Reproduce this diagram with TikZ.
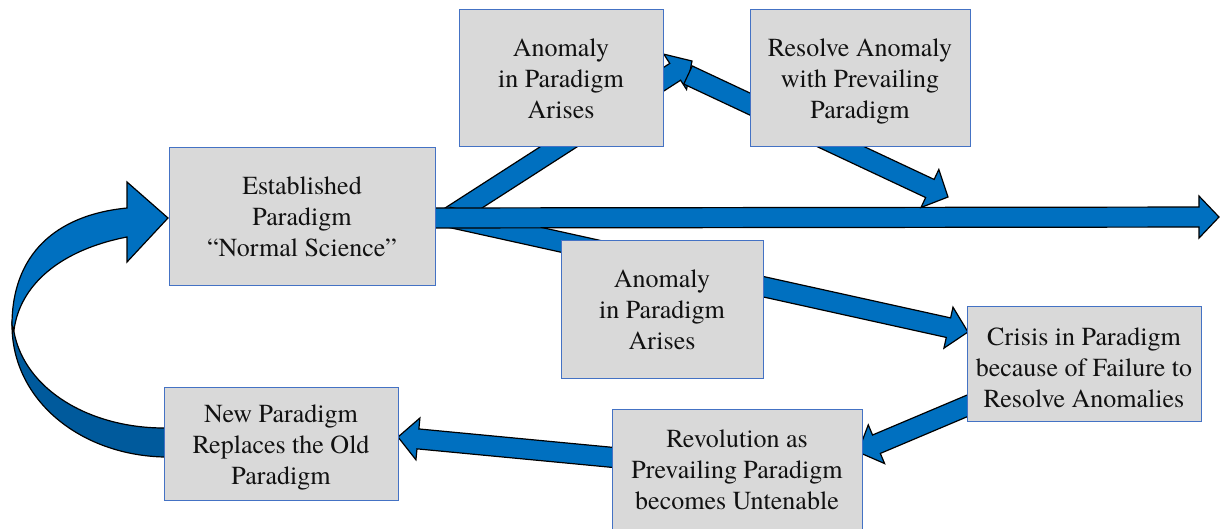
\documentclass[tikz,border=0pt]{standalone}
\usepackage{fontspec}
\setmainfont{TeX Gyre Termes}
\usetikzlibrary{calc}
\definecolor{arrblue}{HTML}{0070C0}
\definecolor{arrdark}{HTML}{005A9C}
\definecolor{boxfill}{HTML}{D9D9D9}
\definecolor{boxline}{HTML}{4472C4}
\definecolor{txt}{HTML}{111111}
\tikzset{
  box/.style={draw=boxline, line width=0.5pt, fill=boxfill, align=center, text=txt,
    font=\fontsize{13}{15.5}\selectfont, inner sep=0pt},
  blockarrow/.style={draw=black, line width=0.6pt, fill=arrblue},
  darkband/.style={draw=black, line width=0.6pt, fill=arrdark}
}
\newcommand\blockarr[2]{%
  \path let \p1=($(#2)-(#1)$) in \pgfextra{%
    \pgfmathsetmacro\baang{atan2(\y1,\x1)}%
    \pgfmathsetmacro\balen{veclen(\x1,\y1)}%
    \global\let\baang\baang \global\let\balen\balen};
  \draw[blockarrow, shift={(#1)}, rotate=\baang]
    (0pt,-5pt) -- ({\balen pt-10pt},-5pt) -- ({\balen pt-10pt},-10.5pt) -- ({\balen pt},0pt)
    -- ({\balen pt-10pt},10.5pt) -- ({\balen pt-10pt},5pt) -- (0pt,5pt) -- cycle;
}
\newcommand\lowerby[1]{\rule{0pt}{#1}}
\begin{document}
\begin{tikzpicture}[x=0.5pt, y=-0.5pt]
\path[use as bounding box] (0,0) rectangle (1220,529);
\clip (0,0) rectangle (1220,529);
% connector end points
\coordinate (a1s) at (448,218);
\coordinate (a1e) at (692,61);
\coordinate (a2s) at (448,217);
\coordinate (a2e) at (968,332);
\coordinate (ms) at (420,218);
\coordinate (me) at (1219,217);
\coordinate (a3s) at (688,75);
\coordinate (a3e) at (948,197);
\coordinate (a4s) at (1000,392);
\coordinate (a4e) at (858,452);
\coordinate (a5s) at (640,460);
\coordinate (a5e) at (398,437);
% block arrows
\blockarr{a1s}{a1e}
\blockarr{a2s}{a2e}
\blockarr{ms}{me}
\blockarr{a3s}{a3e}
\blockarr{a4s}{a4e}
\blockarr{a5s}{a5e}
% curved return arrow
\draw[darkband] (185,457) -- (164,457) .. controls (80,455) and (12,400) .. (12,325)
  -- (14,332) .. controls (25,390) and (90,428) .. (164,428) -- (185,428) -- cycle;
\draw[blockarrow] (12,325) .. controls (12,255) and (55,215) .. (127,208)
  -- (127,182) -- (168,218) -- (127,262) -- (127,237)
  .. controls (60,250) and (20,285) .. (14,330) -- cycle;
% boxes
\node[box, minimum width=133pt, minimum height=68.5pt] (est) at (302,216.5)
  {Established\\Paradigm\\“Normal Science”};
\node[box, minimum width=102pt, minimum height=68.5pt] (an1) at (561,78.5)
  {Anomaly\\in Paradigm\\Arises};
\node[box, minimum width=110pt, minimum height=68.5pt] (res) at (860,78.5)
  {\lowerby{12pt}Resolve Anomaly\\with Prevailing\\Paradigm};
\node[box, minimum width=101pt, minimum height=68.5pt] (an2) at (662,309.5)
  {Anomaly\\in Paradigm\\Arises};
\node[box, minimum width=117pt, minimum height=57.5pt] (cri) at (1084,364)
  {\lowerby{13pt}Crisis in Paradigm\\because of Failure to\\Resolve Anomalies};
\node[box, minimum width=125pt, minimum height=61pt] (rev) at (737,470)
  {Revolution as\\Prevailing Paradigm\\becomes Untenable};
\node[box, minimum width=117pt, minimum height=56.5pt] (newp) at (281,443.5)
  {\lowerby{13pt}New Paradigm\\Replaces the Old\\Paradigm};
\end{tikzpicture}
\end{document}
